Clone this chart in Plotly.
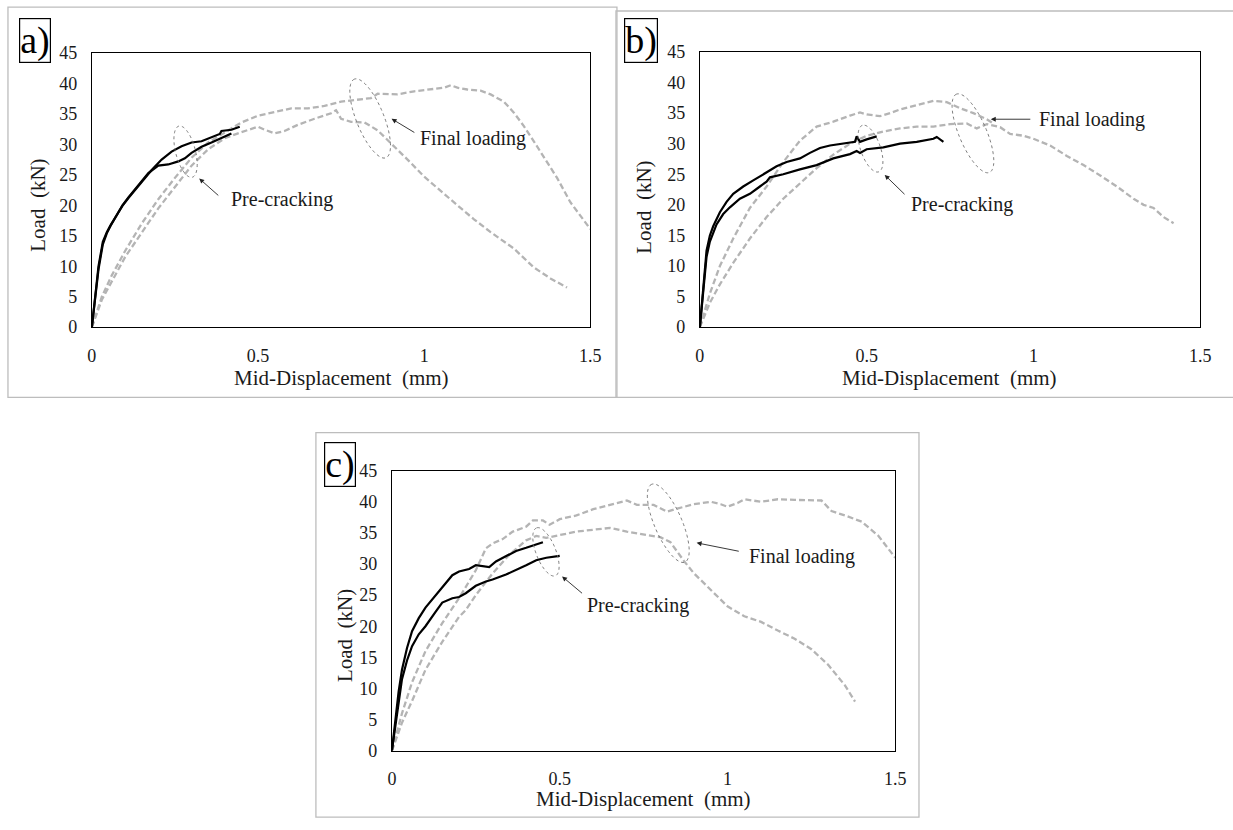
import math
import plotly.graph_objects as go

# ---------------- data ----------------
# Panel a
a_pre1_x = [0, 0.005, 0.01, 0.02, 0.033, 0.045, 0.056, 0.075, 0.092, 0.11, 0.127, 0.145, 0.162, 0.18, 0.21, 0.24, 0.27, 0.30, 0.33, 0.36, 0.385, 0.39, 0.42, 0.445]
a_pre1_y = [0, 2.5, 5, 10, 14, 15.6, 16.7, 18.5, 19.9, 21.2, 22.3, 23.4, 24.5, 25.8, 27.5, 28.8, 29.7, 30.3, 30.5, 31.2, 31.7, 32.2, 32.4, 32.9]
a_pre2_x = [0, 0.005, 0.01, 0.02, 0.033, 0.045, 0.056, 0.075, 0.092, 0.11, 0.127, 0.145, 0.17, 0.2, 0.23, 0.26, 0.28, 0.3, 0.33, 0.36, 0.39, 0.42]
a_pre2_y = [0, 2.3, 4.8, 9.5, 13.6, 15.4, 16.6, 18.5, 20, 21.3, 22.4, 23.6, 25.3, 26.5, 26.7, 27.2, 27.7, 28.6, 29.6, 30.3, 31.0, 31.8]
a_fin1_x = [0, 0.03, 0.06, 0.1, 0.15, 0.2, 0.25, 0.3, 0.35, 0.4, 0.45, 0.5, 0.55, 0.6, 0.65, 0.7, 0.75, 0.8, 0.84, 0.86, 0.88, 0.92, 0.97, 1.02, 1.06, 1.08, 1.1, 1.13, 1.17, 1.2, 1.24, 1.27, 1.3, 1.33, 1.36, 1.4, 1.44, 1.47, 1.5]
a_fin1_y = [0, 5, 8.5, 12.5, 17, 21, 24.5, 27.8, 30.3, 32, 33.6, 34.7, 35.3, 35.9, 35.9, 36.3, 37, 37.3, 37.6, 38.3, 38.3, 38.2, 38.7, 39.1, 39.3, 39.7, 39.3, 39, 38.8, 38.2, 37, 35.2, 33, 30.5, 28, 24.5, 20.5, 18.3, 16.1]
a_fin2_x = [0, 0.03, 0.06, 0.1, 0.15, 0.2, 0.25, 0.3, 0.35, 0.4, 0.45, 0.5, 0.52, 0.55, 0.58, 0.62, 0.67, 0.72, 0.735, 0.75, 0.78, 0.82, 0.86, 0.9, 0.95, 1.0, 1.05, 1.1, 1.15, 1.2, 1.27, 1.33, 1.38, 1.43]
a_fin2_y = [0, 4.5, 7.5, 11.5, 15.5, 19.5, 23, 26.5, 29.2, 31, 32, 32.9, 32.4, 31.8, 32.2, 33.2, 34.2, 35.1, 35.6, 34.2, 33.7, 33.6, 32.3, 30.2, 27.5, 24.7, 22.3, 20, 17.7, 15.6, 12.9, 9.8, 8.0, 6.5]

# Panel b
b_pre1_x = [0, 0.005, 0.01, 0.02, 0.03, 0.04, 0.06, 0.08, 0.1, 0.13, 0.16, 0.2, 0.23, 0.26, 0.3, 0.33, 0.36, 0.39, 0.42, 0.45, 0.465, 0.47, 0.48, 0.5, 0.53]
b_pre1_y = [0, 3, 6, 12.5, 15, 16.5, 18.8, 20.5, 21.8, 23, 24, 25.3, 26.3, 27, 27.6, 28.5, 29.3, 29.7, 29.9, 30.1, 30.3, 31.2, 30.3, 30.7, 31.2]
b_pre2_x = [0, 0.005, 0.01, 0.02, 0.03, 0.05, 0.07, 0.09, 0.12, 0.15, 0.18, 0.2, 0.21, 0.25, 0.3, 0.35, 0.4, 0.45, 0.47, 0.48, 0.5, 0.55, 0.6, 0.65, 0.7, 0.71, 0.73]
b_pre2_y = [0, 3, 6, 11.5, 14, 16.8, 18.5, 19.6, 21, 21.8, 23, 23.8, 24.5, 25, 25.8, 26.5, 27.6, 28.3, 28.8, 28.5, 29.1, 29.4, 30, 30.3, 30.8, 31.1, 30.3]
b_fin1_x = [0, 0.03, 0.06, 0.1, 0.15, 0.2, 0.25, 0.3, 0.35, 0.4, 0.45, 0.48, 0.5, 0.54, 0.57, 0.6, 0.65, 0.7, 0.74, 0.78, 0.82, 0.86, 0.88]
b_fin1_y = [0, 5.5, 10, 14.5, 19.5, 23, 27, 30.5, 32.8, 33.6, 34.6, 35.1, 34.8, 34.5, 35, 35.6, 36.3, 37, 36.8, 35.8, 35, 34, 33.3]
b_fin2_x = [0, 0.03, 0.06, 0.1, 0.15, 0.2, 0.25, 0.3, 0.35, 0.4, 0.45, 0.5, 0.55, 0.6, 0.65, 0.7, 0.75, 0.8, 0.83, 0.86, 0.9, 0.93, 0.97, 1.0, 1.05, 1.1, 1.15, 1.2, 1.25, 1.3, 1.33, 1.36, 1.39, 1.42]
b_fin2_y = [0, 4, 7, 10.5, 14.5, 18, 21, 23.5, 26, 28.2, 30, 31.3, 32, 32.5, 32.8, 32.8, 33.2, 33.3, 32.5, 33.2, 32.7, 31.6, 31.3, 30.8, 29.7, 28, 26.5, 24.8, 23, 21, 20, 19.5, 18, 17]

# Panel c
c_pre1_x = [0, 0.005, 0.01, 0.02, 0.03, 0.045, 0.06, 0.08, 0.1, 0.13, 0.15, 0.18, 0.2, 0.23, 0.25, 0.27, 0.29, 0.31, 0.34, 0.37, 0.4, 0.43, 0.45]
c_pre1_y = [0, 2.5, 5, 9.5, 13, 16.5, 19.2, 21.3, 23, 25, 26.2, 28.2, 28.8, 29.2, 29.8, 29.6, 29.5, 30.4, 31.3, 32.1, 32.6, 33.1, 33.5]
c_pre2_x = [0, 0.005, 0.01, 0.02, 0.03, 0.045, 0.06, 0.08, 0.1, 0.13, 0.15, 0.18, 0.2, 0.22, 0.25, 0.28, 0.3, 0.34, 0.37, 0.4, 0.43, 0.46, 0.5]
c_pre2_y = [0, 2, 4, 8, 11.5, 14.5, 16.8, 18.7, 20, 22.3, 23.8, 24.5, 24.7, 25.3, 26.5, 27.2, 27.5, 28.3, 29, 29.8, 30.6, 31, 31.3]
c_fin1_x = [0, 0.03, 0.06, 0.1, 0.15, 0.2, 0.25, 0.28, 0.3, 0.33, 0.36, 0.4, 0.42, 0.45, 0.47, 0.5, 0.55, 0.6, 0.65, 0.7, 0.73, 0.78, 0.82, 0.85, 0.9, 0.95, 0.98, 1.0, 1.03, 1.05, 1.1, 1.15, 1.2, 1.25, 1.28, 1.31, 1.35, 1.4, 1.45, 1.5]
c_fin1_y = [0, 6, 11, 16, 20.5, 24.5, 29, 32.5, 33.3, 34, 35.2, 36, 37, 37, 36.3, 37.2, 37.8, 38.8, 39.5, 40.2, 39.5, 39.5, 38.4, 38.9, 39.6, 40, 39.6, 39.2, 39.8, 40.4, 40, 40.4, 40.3, 40.3, 40.2, 38.5, 37.8, 36.8, 34.5, 31]
c_fin2_x = [0, 0.03, 0.06, 0.1, 0.15, 0.2, 0.22, 0.25, 0.3, 0.35, 0.4, 0.43, 0.46, 0.5, 0.55, 0.6, 0.65, 0.7, 0.75, 0.8, 0.83, 0.87, 0.9, 0.95, 1.0, 1.05, 1.1, 1.15, 1.2, 1.25, 1.3, 1.35, 1.38]
c_fin2_y = [0, 4.5, 8, 13, 17.5, 21.5, 22.6, 25, 28.5, 31.5, 33.8, 34.5, 34.2, 34.6, 35.2, 35.5, 35.8, 35.2, 34.8, 34.3, 33.5, 30.5, 28.5, 25.8, 23.2, 21.6, 20.7, 19.3, 18, 16.3, 13.8, 10.5, 7.9]

x_ticks = [0, 0.5, 1, 1.5]
y_ticks = [0, 5, 10, 15, 20, 25, 30, 35, 40, 45]

panel_labels = ["a)", "b)", "c)"]
pre_text = "Pre-cracking"
fin_text = "Final loading"

# annotation geometry (data coords): ellipse top, ellipse bottom; arrow head, arrow tail, text anchor
pre_ell_top = [(0.262, 33.0), (0.487, 33.0), (0.431, 35.8)]
pre_ell_bot = [(0.302, 24.6), (0.536, 25.4), (0.487, 28.1)]
fin_ell_top = [(0.79, 40.7), (0.769, 38.1), (0.774, 42.8)]
fin_ell_bot = [(0.885, 27.8), (0.868, 25.3), (0.873, 30.3)]
pre_arrow_head = [(0.323, 24.4), (0.554, 24.9), (0.507, 28.0)]
pre_arrow_tail = [(0.385, 21.4), (0.618, 21.5), (0.571, 25.1)]
pre_text_pos = [(0.412, 21.0), (0.628, 20.0), (0.576, 23.4)]
fin_arrow_head = [(0.902, 34.2), (0.872, 34.0), (0.908, 33.4)]
fin_arrow_tail = [(0.975, 31.8), (0.995, 34.0), (1.038, 32.0)]
fin_text_pos = [(0.982, 31.0), (1.012, 34.0), (1.058, 31.2)]

# ---------------- layout geometry (pixels) ----------------
W, H = 1233, 830
FONT = "Liberation Serif, Times New Roman, serif"

def px(x):
    return x / W

def py(y):
    return 1 - y / H

# plot areas: (left, right, top, bottom) in px
areas = [(88, 593, 44, 325), (704, 1211, 43, 325), (392, 902, 472, 759)]
frames = [(3, 620, -3, 397), (619, 1270, 1, 397), (315, 926, 433, 827)]
label_boxes = [(30, 31), (644, 31), (339, 466)]
ytitle_pos = [(34, 200), (648, 202), (344, 641)]
xtitle_pos = [(341, 377), (957, 377), (647, 808)]

fig = go.Figure()

series = [
    (a_pre1_x, a_pre1_y, a_pre2_x, a_pre2_y, a_fin1_x, a_fin1_y, a_fin2_x, a_fin2_y),
    (b_pre1_x, b_pre1_y, b_pre2_x, b_pre2_y, b_fin1_x, b_fin1_y, b_fin2_x, b_fin2_y),
    (c_pre1_x, c_pre1_y, c_pre2_x, c_pre2_y, c_fin1_x, c_fin1_y, c_fin2_x, c_fin2_y),
]

GREY = "#b4b4b4"
TXT = "#1a1a1a"

for i, s in enumerate(series):
    xa = "x" if i == 0 else f"x{i+1}"
    ya = "y" if i == 0 else f"y{i+1}"
    for (xs, ys) in [(s[4], s[5]), (s[6], s[7])]:
        fig.add_trace(go.Scatter(x=xs, y=ys, mode="lines", xaxis=xa, yaxis=ya,
                                 line=dict(color=GREY, width=2.3, dash="6px,3px"),
                                 showlegend=False, hoverinfo="skip"))
    for (xs, ys) in [(s[0], s[1]), (s[2], s[3])]:
        fig.add_trace(go.Scatter(x=xs, y=ys, mode="lines", xaxis=xa, yaxis=ya,
                                 line=dict(color="black", width=2.2),
                                 showlegend=False, hoverinfo="skip"))

axis_common = dict(showgrid=False, zeroline=False, showline=True, linecolor="black",
                   linewidth=1.2, mirror=True, ticks="",
                   tickfont=dict(family=FONT, size=18, color=TXT))

layout = dict(width=W, height=H, margin=dict(l=0, r=0, t=0, b=0),
              paper_bgcolor="white", plot_bgcolor="white", showlegend=False)

for i, (l, r, t, b) in enumerate(areas):
    sfx = "" if i == 0 else str(i + 1)
    layout["xaxis" + sfx] = dict(axis_common, domain=[px(l), px(r)], range=[0, 1.5],
                                 tickvals=x_ticks, anchor="y" + sfx, ticklabelstandoff=12)
    layout["yaxis" + sfx] = dict(axis_common, domain=[py(b), py(t)], range=[0, 45],
                                 tickvals=y_ticks, anchor="x" + sfx, ticklabelstandoff=10)

fig.update_layout(**layout)

shapes = []
annotations = []

def ellipse_path(top, bot, half_minor_px, sx, sy, n=90):
    tx, ty = top[0] * sx, top[1] * sy
    bx, by = bot[0] * sx, bot[1] * sy
    cx, cy = (tx + bx) / 2, (ty + by) / 2
    ux, uy = (tx - bx) / 2, (ty - by) / 2
    a = math.hypot(ux, uy)
    e1 = (ux / a, uy / a)
    e2 = (-e1[1], e1[0])
    pts = []
    for k in range(n + 1):
        t = 2 * math.pi * k / n
        X = cx + a * math.cos(t) * e1[0] + half_minor_px * math.sin(t) * e2[0]
        Y = cy + a * math.cos(t) * e1[1] + half_minor_px * math.sin(t) * e2[1]
        pts.append((X / sx, Y / sy))
    return "M " + " L ".join(f"{x:.5f},{y:.4f}" for x, y in pts) + " Z"

for i, (l, r, t, b) in enumerate(areas):
    sfx = "" if i == 0 else str(i + 1)
    xr, yr = "x" + sfx, "y" + sfx
    sx = (r - l) / 1.5
    sy = (b - t) / 45.0
    for top, bot, hm in [(pre_ell_top[i], pre_ell_bot[i], 10), (fin_ell_top[i], fin_ell_bot[i], 14)]:
        shapes.append(dict(type="path", xref=xr, yref=yr,
                           path=ellipse_path(top, bot, hm, sx, sy),
                           line=dict(color="#6e6e6e", width=0.9, dash="dot")))
    for head, tail in [(pre_arrow_head[i], pre_arrow_tail[i]), (fin_arrow_head[i], fin_arrow_tail[i])]:
        annotations.append(dict(x=head[0], y=head[1], ax=tail[0], ay=tail[1], xref=xr, yref=yr,
                                axref=xr, ayref=yr, text="", showarrow=True, arrowhead=2,
                                arrowsize=1.1, arrowwidth=0.9, arrowcolor="#222222"))
    for pos, txt in [(pre_text_pos[i], pre_text), (fin_text_pos[i], fin_text)]:
        annotations.append(dict(x=pos[0], y=pos[1], xref=xr, yref=yr, text=txt, showarrow=False,
                                xanchor="left", yanchor="middle",
                                font=dict(family=FONT, size=20, color=TXT)))
    xt = xtitle_pos[i]
    annotations.append(dict(x=px(xt[0]), y=py(xt[1]), xref="paper", yref="paper",
                            text="Mid-Displacement  (mm)", showarrow=False, xanchor="center",
                            yanchor="middle", font=dict(family=FONT, size=21, color=TXT)))
    yt = ytitle_pos[i]
    annotations.append(dict(x=px(yt[0]), y=py(yt[1]), xref="paper", yref="paper",
                            text="Load  (kN)", showarrow=False, textangle=-90, xanchor="center",
                            yanchor="middle", font=dict(family=FONT, size=21, color=TXT)))
    fl, fr, ft, fb = frames[i]
    shapes.append(dict(type="rect", xref="paper", yref="paper", x0=px(fl), x1=px(fr),
                       y0=py(fb), y1=py(ft), line=dict(color="#bdbdbd", width=1.3)))
    lx, ly = label_boxes[i]
    annotations.append(dict(x=px(lx), y=py(ly), xref="paper", yref="paper", text=panel_labels[i],
                            showarrow=False, xanchor="center", yanchor="middle",
                            font=dict(family=FONT, size=38, color="black"),
                            bordercolor="black", borderwidth=1.2, borderpad=0, bgcolor="white"))

fig.update_layout(shapes=shapes, annotations=annotations)
fig.write_html("out.html", config={"displayModeBar": False})

# remove default page margins so the figure sits at the window's origin
with open("out.html", "r", encoding="utf-8") as f:
    html = f.read()
html = html.replace("<head>", "<head><style>html,body{margin:0;padding:0;overflow:hidden;}</style>", 1)
with open("out.html", "w", encoding="utf-8") as f:
    f.write(html)
